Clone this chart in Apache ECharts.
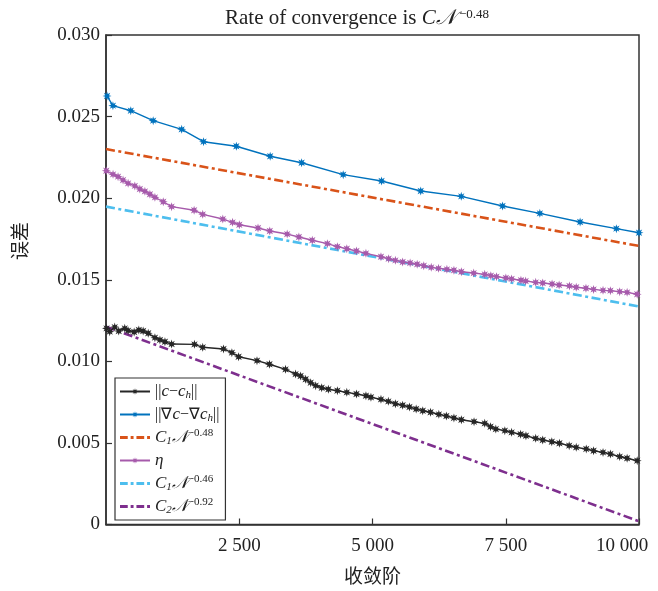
<!DOCTYPE html>
<html>
<head>
<meta charset="utf-8">
<script src="https://cdn.jsdelivr.net/npm/echarts@6/dist/echarts.min.js"></script>
<style>html,body{margin:0;padding:0;background:#fff;}#c{width:658px;height:591px;}</style>
</head>
<body>
<div id="c"></div>
<script>
// ---- data ----
const xTicks = [2500, 5000, 7500, 10000];
const yTicks = [0, 0.005, 0.010, 0.015, 0.020, 0.025, 0.030];

const gradErrX = [20, 130, 465, 885, 1420, 1830, 2445, 3080, 3670, 4450, 5170, 5905, 6665, 7440, 8140, 8895, 9575, 10000];
const gradErrY = [0.02626, 0.02567, 0.02536, 0.02475, 0.02422, 0.02346, 0.02318, 0.02257, 0.02217, 0.02144, 0.02105, 0.02044, 0.02011, 0.01952, 0.01907, 0.01854, 0.01813, 0.01788];

const etaX = [6, 132, 226, 320, 415, 541, 635, 730, 824, 918, 1074, 1231, 1653, 1815, 2192, 2375, 2501, 2852, 3073, 3399, 3619, 3870, 4153, 4341, 4518, 4699, 4877, 5159, 5303, 5429, 5566, 5706, 5838, 5962, 6102, 6239, 6396, 6528, 6667, 6899, 7106, 7220, 7327, 7502, 7610, 7785, 7874, 8062, 8194, 8369, 8501, 8695, 8822, 9005, 9148, 9325, 9463, 9638, 9777, 9966];
const etaY = [0.02168, 0.02146, 0.02132, 0.02111, 0.02091, 0.02075, 0.02056, 0.02042, 0.02024, 0.02005, 0.01978, 0.01948, 0.01926, 0.01901, 0.01872, 0.01852, 0.01837, 0.01817, 0.01799, 0.01780, 0.01762, 0.01742, 0.01721, 0.01703, 0.01690, 0.01676, 0.01662, 0.01641, 0.01629, 0.01619, 0.01609, 0.01603, 0.01595, 0.01586, 0.01576, 0.01570, 0.01564, 0.01558, 0.01549, 0.01541, 0.01533, 0.01525, 0.01519, 0.01511, 0.01505, 0.01497, 0.01492, 0.01484, 0.01480, 0.01474, 0.01468, 0.01462, 0.01454, 0.01448, 0.01441, 0.01435, 0.01433, 0.01427, 0.01423, 0.01411];

const errX = [10, 70, 164, 239, 352, 415, 528, 616, 697, 792, 918, 1012, 1106, 1231, 1659, 1815, 2205, 2362, 2488, 2833, 3067, 3368, 3557, 3651, 3746, 3840, 3934, 4047, 4172, 4341, 4518, 4699, 4877, 4971, 5159, 5297, 5429, 5566, 5693, 5819, 5943, 6089, 6245, 6385, 6528, 6667, 6905, 7106, 7214, 7314, 7483, 7610, 7779, 7879, 8062, 8194, 8364, 8507, 8690, 8822, 9010, 9148, 9325, 9463, 9638, 9777, 9966];
const errY = [0.01202, 0.01182, 0.01210, 0.01186, 0.01202, 0.01188, 0.01180, 0.01192, 0.01186, 0.01172, 0.01145, 0.01131, 0.01120, 0.01106, 0.01104, 0.01086, 0.01076, 0.01053, 0.01028, 0.01004, 0.00982, 0.00951, 0.00922, 0.00910, 0.00890, 0.00869, 0.00851, 0.00838, 0.00829, 0.00820, 0.00810, 0.00800, 0.00789, 0.00780, 0.00767, 0.00755, 0.00740, 0.00731, 0.00720, 0.00708, 0.00697, 0.00688, 0.00675, 0.00665, 0.00653, 0.00642, 0.00630, 0.00620, 0.00599, 0.00585, 0.00575, 0.00565, 0.00553, 0.00544, 0.00528, 0.00518, 0.00507, 0.00498, 0.00483, 0.00473, 0.00463, 0.00452, 0.00442, 0.00432, 0.00416, 0.00406, 0.00391];

const ref048X = [0, 10000];
const ref048Y = [0.02301, 0.01707];
const ref046X = [0, 10000];
const ref046Y = [0.01948, 0.01336];
const ref092X = [0, 10000];
const ref092Y = [0.01212, 0.00020];

// ---- styles ----
const SERIF = '"Liberation Serif","Times New Roman",serif';
const CJK = '"Noto Sans CJK SC",sans-serif';
const C_BLACK = '#262626', C_BLUE = '#0072BD', C_ORANGE = '#D95319',
      C_ETA = '#A65AAB', C_CYAN = '#4DBEEE', C_PURPLE = '#7E2F8E';

// asterisk-like marker shape
function starPath() {
  const n = 8, R = 10, r = 4.6;
  let d = '';
  for (let i = 0; i < 2 * n; i++) {
    const a = Math.PI * i / n - Math.PI / 2;
    const rr = i % 2 === 0 ? R : r;
    const x = (10 + rr * Math.cos(a)).toFixed(2), y = (10 + rr * Math.sin(a)).toFixed(2);
    d += (i === 0 ? 'M' : 'L') + x + ' ' + y + ' ';
  }
  return 'path://' + d + 'Z';
}
const STAR = starPath();
// dash-dot legend icon
const DASH_ICON = 'path://M0 0h8v3H0z M11 0h3v3h-3z M17 0h8v3h-8z M28 0h3v3h-3z';

const zip = (xs, ys) => xs.map((x, i) => [x, ys[i]]);
const fmtThousands = v => String(v).replace(/\B(?=(\d{3})+(?!\d))/g, ' ');

const legendText = {
  e1: '{t|||}{i|c}{t|−}{i|c}{sub|h}{t|||}',
  e2: '{t|||∇}{i|c}{t|−∇}{i|c}{sub|h}{t|||}',
  r1: '{i|C}{sub|1}{i|𝒩}{sup|−0.48}',
  eta: '{i|η}',
  r2: '{i|C}{sub|1}{i|𝒩}{sup|−0.46}',
  r3: '{i|C}{sub|2}{i|𝒩}{sup|−0.92}'
};

const dataLine = (name, xs, ys, color, size) => ({
  name, type: 'line', data: zip(xs, ys),
  symbol: STAR, symbolSize: size, showSymbol: true,
  lineStyle: { color, width: 1.4 }, itemStyle: { color },
  emphasis: { disabled: true }, animation: false, z: 3
});
const refLine = (name, xs, ys, color) => ({
  name, type: 'line', data: zip(xs, ys), showSymbol: false, symbol: 'none',
  lineStyle: { color, width: 2.6, type: [9, 3.5, 3, 3.5] }, itemStyle: { color },
  emphasis: { disabled: true }, animation: false, z: 2
});

const chart = echarts.init(document.getElementById('c'), null, { renderer: 'canvas' });
chart.setOption({
  backgroundColor: '#fff',
  animation: false,
  title: {
    text: 'Rate of convergence is {i|C𝒩}{sup| −0.48}',
    left: 352, textAlign: 'center', top: 3,
    textStyle: {
      fontFamily: SERIF, fontSize: 21, fontWeight: 'normal', color: '#222',
      rich: {
        i: { fontFamily: SERIF, fontSize: 21, fontStyle: 'italic', color: '#222' },
        sup: { fontFamily: SERIF, fontSize: 13, color: '#222', verticalAlign: 'top', lineHeight: 12 }
      }
    }
  },
  grid: { left: 106, right: 19, top: 35, bottom: 66.5, show: true, borderColor: '#333', borderWidth: 1.5, containLabel: false },
  legend: {
    orient: 'vertical', left: 115, top: 378,
    backgroundColor: '#fff', borderColor: '#333', borderWidth: 1.2,
    padding: [4, 6, 4, 4], itemWidth: 30, itemHeight: 8, itemGap: 4,
    data: [
      { name: 'e1' }, { name: 'e2' },
      { name: 'r1', icon: DASH_ICON },
      { name: 'eta' },
      { name: 'r2', icon: DASH_ICON },
      { name: 'r3', icon: DASH_ICON }
    ],
    formatter: n => legendText[n],
    textStyle: {
      fontFamily: SERIF, fontSize: 16, color: '#222', lineHeight: 19,
      rich: {
        t: { fontFamily: SERIF, fontSize: 16, color: '#222' },
        i: { fontFamily: SERIF, fontSize: 17, fontStyle: 'italic', color: '#222' },
        sub: { fontFamily: SERIF, fontSize: 11, fontStyle: 'italic', color: '#222', verticalAlign: 'bottom', lineHeight: 10 },
        sup: { fontFamily: SERIF, fontSize: 11, color: '#222', verticalAlign: 'top', lineHeight: 10 }
      }
    }
  },
  graphic: [{
    type: 'text', left: 10, top: 222, rotation: Math.PI / 2,
    style: { text: '误差', fontFamily: CJK, fontSize: 19, fill: '#222' }
  }],
  xAxis: {
    type: 'value', min: 0, max: 10000, interval: 2500,
    name: '收敛阶', nameLocation: 'middle', nameGap: 42,
    nameTextStyle: { fontFamily: CJK, fontSize: 19, color: '#222' },
    axisLine: { show: true, lineStyle: { color: '#333', width: 1.5 } },
    axisTick: { show: true, inside: true, length: 6, lineStyle: { color: '#333', width: 1.2 } },
    axisLabel: {
      showMinLabel: false, margin: 12, fontFamily: SERIF, fontSize: 19, color: '#222',
      formatter: v => (v === 10000 ? '{m|' + fmtThousands(v) + '}' : fmtThousands(v)),
      rich: { m: { fontFamily: SERIF, fontSize: 19, color: '#222', padding: [0, 34, 0, 0] } }
    },
    splitLine: { show: false }
  },
  yAxis: {
    type: 'value', min: 0, max: 0.03, interval: 0.005,
    axisLine: { show: true, lineStyle: { color: '#333', width: 1.5 } },
    axisTick: { show: true, inside: true, length: 6, lineStyle: { color: '#333', width: 1.2 } },
    axisLabel: { margin: 6, fontFamily: SERIF, fontSize: 19, color: '#222', formatter: v => (v === 0 ? '0' : v.toFixed(3)) },
    splitLine: { show: false }
  },
  series: [
    dataLine('e1', errX, errY, C_BLACK, 9),
    dataLine('e2', gradErrX, gradErrY, C_BLUE, 9),
    refLine('r1', ref048X, ref048Y, C_ORANGE),
    dataLine('eta', etaX, etaY, C_ETA, 9),
    refLine('r2', ref046X, ref046Y, C_CYAN),
    refLine('r3', ref092X, ref092Y, C_PURPLE)
  ]
});
</script>
</body>
</html>
